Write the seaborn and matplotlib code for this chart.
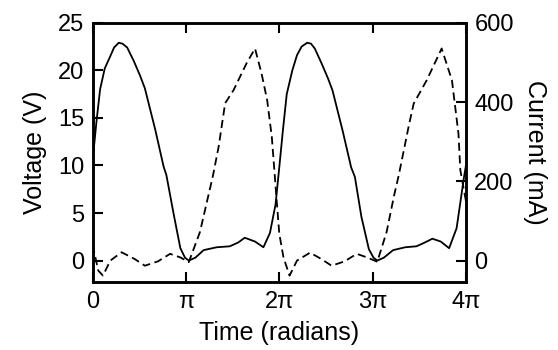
import numpy as np
import pandas as pd
import seaborn as sb
import matplotlib
matplotlib.use("Agg")
import matplotlib.pyplot as plt

# voltage trace (solid), time in multiples of pi
v_t = [0.00, 0.04, 0.08, 0.13, 0.19, 0.23, 0.28, 0.32, 0.37, 0.44, 0.51, 0.56,
       0.67, 0.76, 0.79, 0.87, 0.94, 0.99, 1.03, 1.10, 1.19, 1.33, 1.47, 1.56,
       1.63, 1.74, 1.83, 1.90, 1.96, 2.00, 2.04, 2.08, 2.14, 2.19, 2.24, 2.30,
       2.34, 2.38, 2.45, 2.52, 2.57, 2.68, 2.77, 2.81, 2.88, 2.96, 3.01, 3.05,
       3.12, 3.22, 3.35, 3.47, 3.56, 3.64, 3.73, 3.82, 3.90, 3.94, 3.975, 4.00]
v_val = [10.5, 14.5, 18.0, 20.2, 21.5, 22.4, 22.9, 22.8, 22.4, 21.0, 19.4, 18.1,
         13.8, 9.9, 9.0, 4.8, 1.3, 0.3, 0.0, 0.3, 1.1, 1.4, 1.5, 1.9,
         2.4, 2.0, 1.4, 2.9, 5.9, 9.8, 13.8, 17.5, 20.0, 21.6, 22.5, 22.9,
         22.8, 22.3, 20.8, 19.2, 17.9, 13.6, 9.8, 8.8, 4.6, 1.2, 0.3, 0.0,
         0.3, 1.1, 1.4, 1.5, 1.9, 2.3, 2.0, 1.3, 3.4, 6.1, 8.5, 10.0]

# current trace (dashed), time in multiples of pi
i_t = [0.00, 0.06, 0.11, 0.19, 0.31, 0.45, 0.56, 0.70, 0.83, 0.94, 1.03, 1.15,
       1.24, 1.29, 1.35, 1.42, 1.51, 1.65, 1.74, 1.81, 1.87, 1.92, 1.965, 2.00,
       2.045, 2.11, 2.19, 2.33, 2.45, 2.56, 2.70, 2.83, 2.94, 3.05, 3.15, 3.23,
       3.28, 3.385, 3.44, 3.58, 3.74, 3.85, 3.92, 3.94, 4.00]
i_val = [40, -25, -38, 0, 21, 4, -13, -2, 17, 8, -4, 72,
         164, 215, 287, 397, 430, 498, 535, 472, 405, 312, 173, 68,
         8, -38, 0, 20, 4, -13, -2, 17, 8, -3, 72, 164,
         215, 337, 396, 455, 535, 455, 320, 228, 150]

x_ticks = [0, 1, 2, 3, 4]
x_labels = ["0", "π", "2π", "3π", "4π"]
v_ticks = [0, 5, 10, 15, 20, 25]
i_ticks = [0, 200, 400, 600]

sb.set_style("ticks", {"axes.edgecolor": "black", "text.color": "black",
                       "xtick.color": "black", "ytick.color": "black",
                       "axes.labelcolor": "black"})
plt.rcParams['font.family'] = ['Liberation Sans', 'DejaVu Sans']
plt.rcParams['font.size'] = 17

df_v = pd.DataFrame({"t": np.array(v_t) * np.pi, "v": v_val})
df_i = pd.DataFrame({"t": np.array(i_t) * np.pi, "i": i_val})

fig = plt.figure(figsize=(5.58, 3.5), dpi=100)
ax = fig.add_axes([0.166, 0.193, 0.669, 0.742])
ax2 = ax.twinx()

sb.lineplot(data=df_v, x="t", y="v", ax=ax, color="black", lw=1.3)
sb.lineplot(data=df_i, x="t", y="i", ax=ax2, color="black", lw=1.3,
            linestyle=(0, (4.5, 2.5)))

ax.set_xlim(0, 4 * np.pi)
ax.set_ylim(-2.3, 25)
ax2.set_ylim(-55.2, 600)

ax.set_xticks(np.array(x_ticks) * np.pi)
ax.set_xticklabels(x_labels)
ax.set_yticks(v_ticks)
ax2.set_yticks(i_ticks)

ax.tick_params(direction="in", length=7, width=1.5, top=True, right=False,
               pad=6, colors="black")
ax2.tick_params(direction="in", length=7, width=1.5, pad=6, colors="black")

for a in (ax, ax2):
    for s in a.spines.values():
        s.set_linewidth(1.8)
        s.set_color("black")
        s.set_visible(True)

ax.set_xlabel("Time (radians)", fontsize=18, labelpad=6, color="black")
ax.set_ylabel("Voltage (V)", fontsize=18, labelpad=8, color="black")
ax2.set_ylabel("Current (mA)", fontsize=18, rotation=270, labelpad=24,
               color="black")

fig.savefig("out.png", dpi=100)
